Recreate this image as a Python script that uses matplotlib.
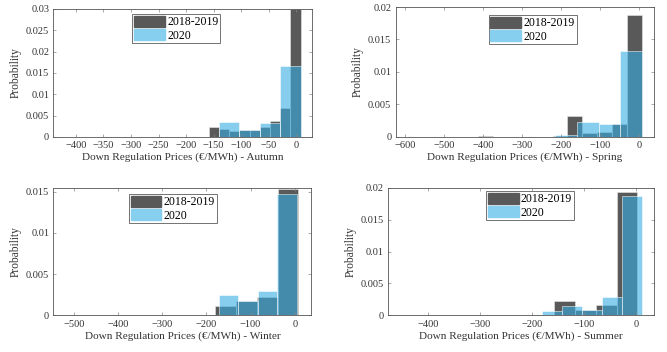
import matplotlib
matplotlib.use("Agg")
import matplotlib.pyplot as plt
from matplotlib.patches import Patch

# ---------------------------------------------------------------------------
# Data: bin edges and probability per bin
# ---------------------------------------------------------------------------
SEASONS = ["Autumn", "Spring", "Winter", "Summer"]
LABELS = ["2018-2019", "2020"]

# Autumn
autumn_old_edges = [-177, -158.5, -140, -121.5, -103, -84.5, -66, -47.5, -29, -10.5, 8]
autumn_old_prob = [0.0001, 0.0023, 0.0019, 0.0014, 0.0017, 0.0017, 0.0024, 0.0037, 0.0067, 0.030]
autumn_new_edges = [-140, -103, -66, -29, 8]
autumn_new_prob = [0.0035, 0.0017, 0.0033, 0.0166]

# Spring
spring_old_edges = [-414, -375.5, -337, -298.5, -260, -221.5, -183.5, -145, -106.5, -68, -29.5, 9]
spring_old_prob = [0.00015, 0, 0, 0, 0, 0.0001, 0.0031, 0.0005, 0.0007, 0.0020, 0.0187]
spring_new_edges = [-214, -158, -103, -47, 9]
spring_new_prob = [0.0002, 0.0022, 0.0019, 0.0132]

# Winter
winter_old_edges = [-180, -133, -86, -39, 8]
winter_old_prob = [0.0011, 0.0018, 0.0022, 0.0153]
winter_new_edges = [-172, -128, -84, -40, 6]
winter_new_prob = [0.0025, 0.0018, 0.0029, 0.0147]

# Summer
summer_old_edges = [-198, -158, -118, -78, -38, 1]
summer_old_prob = [0.0001, 0.0022, 0.0009, 0.0016, 0.0193]
summer_new_edges = [-182, -143, -105, -67, -28, 10]
summer_new_prob = [0.0007, 0.0015, 0.0009, 0.0029, 0.0187]

X_TICKS = {
    "Autumn": list(range(-400, 1, 50)),
    "Spring": list(range(-600, 1, 100)),
    "Winter": list(range(-500, 1, 100)),
    "Summer": list(range(-400, 1, 100)),
}
Y_TICKS = {
    "Autumn": [0, 0.005, 0.01, 0.015, 0.02, 0.025, 0.03],
    "Spring": [0, 0.005, 0.01, 0.015, 0.02],
    "Winter": [0, 0.005, 0.01, 0.015],
    "Summer": [0, 0.005, 0.01, 0.015, 0.02],
}

# ---------------------------------------------------------------------------
# Style / layout
# ---------------------------------------------------------------------------
DARK = "#595959"
BLUE = "#37ace3"
BLUE_ALPHA = 0.6

plt.rcParams["font.family"] = ["Liberation Serif", "DejaVu Serif"]
plt.rcParams["font.size"] = 7.5

AX_POS = {
    "Autumn": [0.080, 0.611, 0.388, 0.364],
    "Spring": [0.593, 0.612, 0.388, 0.368],
    "Winter": [0.080, 0.104, 0.387, 0.363],
    "Summer": [0.582, 0.104, 0.398, 0.363],
}
XLIM = {
    "Autumn": (-441, 29),
    "Spring": (-625, 40),
    "Winter": (-547, 38),
    "Summer": (-477, 33),
}
YLIM = {
    "Autumn": (0, 0.03),
    "Spring": (0, 0.02),
    "Winter": (0, 0.0155),
    "Summer": (0, 0.02),
}
LEG_POS = {
    "Autumn": (0.305, 0.96),
    "Spring": (0.36, 0.94),
    "Winter": (0.293, 0.95),
    "Summer": (0.369, 0.975),
}

DATA = {
    "Autumn": (autumn_old_edges, autumn_old_prob, autumn_new_edges, autumn_new_prob),
    "Spring": (spring_old_edges, spring_old_prob, spring_new_edges, spring_new_prob),
    "Winter": (winter_old_edges, winter_old_prob, winter_new_edges, winter_new_prob),
    "Summer": (summer_old_edges, summer_old_prob, summer_new_edges, summer_new_prob),
}


def draw_hist(ax, edges, probs, **kw):
    lefts = edges[:-1]
    widths = [b - a for a, b in zip(edges[:-1], edges[1:])]
    ax.bar(lefts, probs, width=widths, align="edge", **kw)


fig = plt.figure(figsize=(6.67, 3.52), dpi=100, facecolor="white")

for season in SEASONS:
    old_e, old_p, new_e, new_p = DATA[season]
    ax = fig.add_axes(AX_POS[season])
    draw_hist(ax, old_e, old_p, color=DARK, edgecolor="#e8e8e8", linewidth=0.4)
    draw_hist(ax, new_e, new_p, color=BLUE, alpha=BLUE_ALPHA, edgecolor="white", linewidth=0.6)

    ax.set_xlim(*XLIM[season])
    ax.set_ylim(*YLIM[season])
    ax.set_xticks(X_TICKS[season])
    ax.set_yticks(Y_TICKS[season])
    ax.set_yticklabels([("%g" % v) for v in Y_TICKS[season]])
    ax.tick_params(direction="in", length=2.5, width=0.5, color="#888888",
                   labelcolor="#333333", top=True, right=True, labelsize=7.5, pad=3)
    for sp in ax.spines.values():
        sp.set_color("#555555")
        sp.set_linewidth(0.6)

    ax.set_xlabel("Down Regulation Prices (\u20ac/MWh) - " + season, fontsize=8.1,
                  labelpad=2, color="#333333")
    ax.set_ylabel("Probability", fontsize=8.3, labelpad=3, color="#333333")

    handles = [Patch(facecolor=DARK, edgecolor=DARK),
               Patch(facecolor="#86cfef", edgecolor="#86cfef")]
    leg = ax.legend(handles, LABELS, loc="upper left", bbox_to_anchor=LEG_POS[season],
                    fontsize=8.5, frameon=True, fancybox=False, edgecolor="#333333",
                    handlelength=2.6, handleheight=1.1, handletextpad=0.2,
                    borderpad=0.15, labelspacing=0.05, borderaxespad=0)
    leg.get_frame().set_linewidth(0.6)

fig.savefig("out.png", dpi=100, facecolor="white")
